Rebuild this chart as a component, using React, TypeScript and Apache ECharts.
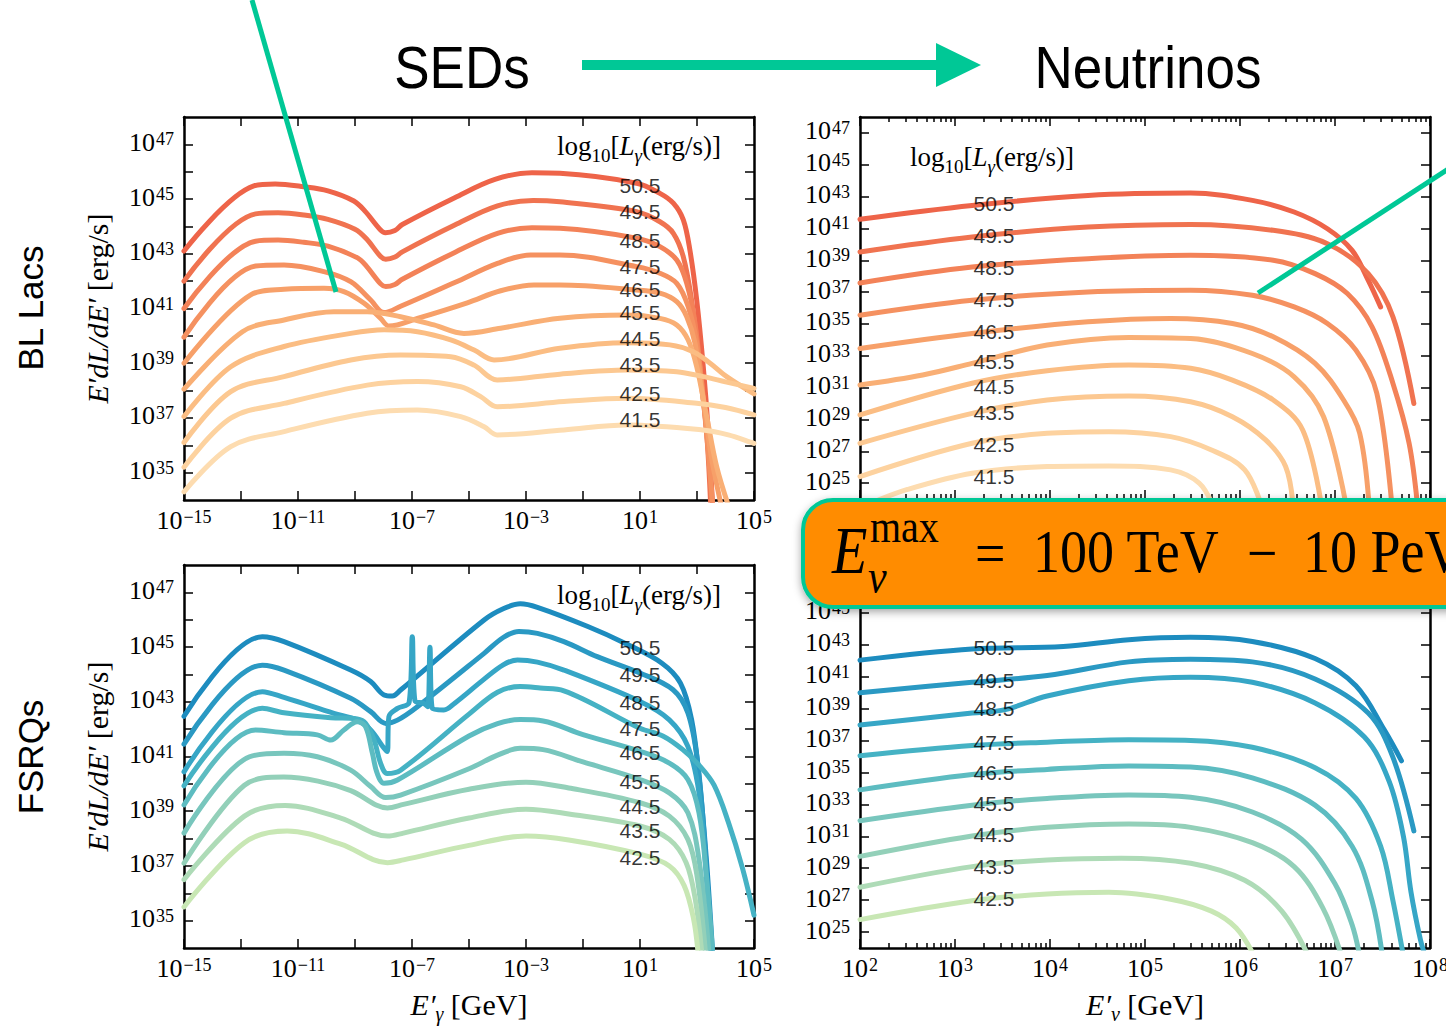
import React, { useEffect, useRef } from "react";
import * as echarts from "echarts";

// ---------- luminosity labels ----------
const blLum = ["50.5", "49.5", "48.5", "47.5", "46.5", "45.5", "44.5", "43.5", "42.5", "41.5"];
const fsLum = ["50.5", "49.5", "48.5", "47.5", "46.5", "45.5", "44.5", "43.5", "42.5"];

const blColors = ["#ee6449", "#f07350", "#f38258", "#f59160", "#f7a069", "#f9af75", "#fbbd83", "#fcc891", "#fdd29f", "#fddcb0"];
const fsColors = ["#1d8cbf", "#2a99c3", "#36a6c6", "#45b2c4", "#5dbcc1", "#78c6bd", "#93d0b9", "#aedbb7", "#c8e7b4"];

// ---------- BL Lac SEDs: [log10 E'(GeV), log10 E'dL/dE'(erg/s)] ----------
const blSed505 = [[-15, 43.1], [-12.55, 45.48], [-11.8, 45.55], [-10.8, 45.45], [-9.95, 45.3], [-9.04, 44.93], [-8.65, 44.56], [-8.12, 43.89], [-7.93, 43.77], [-7.6, 43.85], [-7.34, 44.07], [-5.5, 45.05], [-4.09, 45.72], [-2.79, 45.96], [-1.81, 45.94], [0.88, 45.58], [1.7, 45.21], [2.17, 44.85], [2.52, 44.24], [2.75, 43.14], [2.99, 41.31], [3.22, 38.87], [3.4, 36.45], [3.55, 33.8]];
const blSed495 = [[-15, 42.0], [-12.49, 44.46], [-11.7, 44.5], [-10.8, 44.42], [-9.95, 44.26], [-9.0, 43.9], [-8.6, 43.55], [-8.1, 42.9], [-7.92, 42.8], [-7.6, 42.88], [-7.34, 43.07], [-5.5, 44.05], [-4.0, 44.75], [-2.75, 44.95], [-1.81, 44.9], [0.88, 44.54], [1.7, 44.17], [2.17, 43.75], [2.52, 42.89], [2.81, 41.31], [3.11, 38.87], [3.34, 36.44], [3.48, 33.8]];
const blSed485 = [[-15, 41.0], [-12.49, 43.46], [-11.7, 43.5], [-10.8, 43.42], [-9.95, 43.28], [-8.91, 42.85], [-8.6, 42.55], [-8.1, 41.9], [-7.92, 41.8], [-7.6, 41.88], [-7.34, 42.07], [-5.5, 43.05], [-4.0, 43.75], [-2.79, 43.95], [-1.81, 43.93], [0.88, 43.57], [1.7, 43.26], [2.29, 42.77], [2.64, 41.92], [2.93, 40.46], [3.16, 38.27], [3.4, 35.83], [3.53, 33.8]];
const blSed475 = [[-15, 39.95], [-12.49, 42.55], [-11.49, 42.59], [-10.09, 42.35], [-9.15, 41.98], [-8.45, 41.31], [-7.98, 40.85], [-7.4, 41.08], [-5.5, 41.95], [-4.0, 42.65], [-2.84, 42.96], [-1.81, 42.96], [0.88, 42.53], [1.7, 42.29], [2.29, 41.92], [2.69, 41.07], [2.99, 39.73], [3.28, 37.05], [3.55, 33.8]];
const blSed465 = [[-15, 39.0], [-12.66, 41.5], [-11.49, 41.7], [-10.09, 41.74], [-9.39, 41.62], [-8.68, 41.19], [-8.1, 40.64], [-7.81, 40.36], [-6.81, 40.64], [-5.06, 41.21], [-3.89, 41.65], [-2.72, 41.86], [-1.81, 41.86], [0.88, 41.68], [1.7, 41.56], [2.29, 41.25], [2.64, 40.7], [2.93, 39.73], [3.22, 37.66], [3.5, 35.6], [3.85, 33.8]];
const blSed455 = [[-15, 38.05], [-12.95, 40.15], [-11.49, 40.58], [-9.74, 40.88], [-8.57, 40.88], [-7.4, 40.7], [-6.23, 40.4], [-5.18, 40.09], [-3.89, 40.28], [-1.81, 40.64], [0.53, 40.76], [1.7, 40.64], [2.29, 40.4], [2.69, 39.85], [2.99, 38.87], [3.34, 37.05], [3.69, 35.22], [4.1, 33.8]];
const blSed445 = [[-15, 37.05], [-13.36, 38.87], [-11.49, 39.61], [-9.15, 40.09], [-7.98, 40.22], [-6.81, 40.15], [-5.64, 39.85], [-4.82, 39.48], [-4.12, 39.12], [-1.81, 39.55], [0.53, 39.75], [2.05, 39.67], [2.87, 39.42], [3.46, 39.0], [4.04, 38.51], [5, 37.88]];
const blSed435 = [[-15, 36.1], [-13.36, 37.96], [-11.49, 38.51], [-9.15, 39.12], [-7.4, 39.3], [-5.64, 39.24], [-4.82, 38.93], [-4.01, 38.39], [-1.81, 38.6], [0.53, 38.75], [2.29, 38.69], [3.22, 38.51], [4.0, 38.32], [5, 38.08]];
const blSed425 = [[-15, 35.2], [-13.36, 36.99], [-11.49, 37.53], [-8.57, 38.2], [-6.81, 38.33], [-5.29, 38.14], [-4.59, 37.78], [-4.01, 37.41], [-1.67, 37.6], [0.53, 37.72], [2.99, 37.54], [4.0, 37.38], [5, 37.11]];
const blSed415 = [[-15, 34.3], [-13.36, 35.95], [-11.49, 36.5], [-8.57, 37.17], [-6.81, 37.29], [-5.29, 37.05], [-4.47, 36.68], [-4.01, 36.38], [-1.67, 36.56], [0.53, 36.74], [3.2, 36.56], [4.1, 36.38], [5, 36.07]];

// ---------- FSRQ SEDs ----------
const fsSed505 = [[-15, 42.47], [-12.25, 45.38], [-11.49, 45.2], [-9.15, 44.16], [-8.45, 43.74], [-7.98, 43.25], [-7.69, 43.21], [-7.4, 43.43], [-4.47, 45.99], [-3.8, 46.4], [-3.2, 46.58], [-2.6, 46.45], [-0.83, 45.75], [0.47, 45.14], [1.77, 44.41], [2.42, 43.68], [2.81, 42.35], [3.07, 40.28], [3.33, 37.24], [3.55, 33.8]];
const fsSed495 = [[-15, 41.45], [-12.25, 44.34], [-11.49, 44.16], [-9.15, 43.13], [-8.45, 42.64], [-7.92, 42.21], [-7.51, 42.33], [-6.81, 42.82], [-4.47, 44.77], [-3.8, 45.35], [-3.25, 45.57], [-2.6, 45.5], [-1.67, 45.2], [-0.5, 44.65], [1.0, 44.05], [2.16, 43.44], [2.68, 42.59], [3.01, 40.89], [3.27, 37.85], [3.48, 33.8]];
const fsSed485 = [[-15, 40.44], [-12.25, 43.37], [-11.49, 43.16], [-9.74, 42.58], [-8.92, 42.33], [-8.45, 41.97], [-7.98, 41.3], [-7.87, 41.18], [-7.81, 42.46], [-7.51, 42.76], [-7.1, 42.98], [-6.99, 45.38], [-6.9, 43.05], [-6.58, 42.94], [-6.45, 42.82], [-6.37, 44.99], [-6.29, 42.76], [-5.88, 42.7], [-5.5, 42.95], [-4.5, 43.8], [-3.8, 44.35], [-3.3, 44.53], [-2.6, 44.45], [-1.67, 44.16], [1.0, 43.01], [2.03, 42.34], [2.68, 41.37], [3.07, 39.67], [3.33, 36.64], [3.52, 33.8]];
const fsSed475 = [[-15, 39.93], [-12.25, 42.76], [-11.49, 42.6], [-9.85, 42.42], [-8.92, 42.37], [-8.63, 42.21], [-8.33, 41.6], [-8.1, 40.75], [-7.87, 40.38], [-7.4, 40.5], [-5.0, 42.55], [-4.0, 43.35], [-3.2, 43.56], [-2.5, 43.5], [-1.67, 43.4], [1.0, 42.03], [1.8, 41.75], [2.5, 41.25], [3.1, 40.65], [3.6, 39.95], [4.1, 38.6], [4.6, 36.9], [5.0, 35.2]];
const fsSed465 = [[-15, 39.23], [-12.49, 41.97], [-11.49, 41.87], [-10.32, 41.79], [-9.85, 41.6], [-9.39, 41.97], [-8.92, 42.27], [-8.63, 42.09], [-8.39, 41.12], [-8.22, 40.38], [-7.98, 40.02], [-7.51, 40.14], [-5.0, 41.75], [-4.0, 42.2], [-3.2, 42.35], [-2.4, 42.3], [-1.0, 41.8], [1.0, 41.19], [2.03, 40.76], [2.68, 40.16], [3.07, 38.94], [3.33, 36.64], [3.55, 33.8]];
const fsSed455 = [[-15, 38.2], [-12.7, 40.99], [-11.49, 41.12], [-10.32, 40.99], [-9.15, 40.5], [-8.45, 39.9], [-7.92, 39.5], [-7.4, 39.59], [-5.0, 40.55], [-4.0, 41.05], [-3.2, 41.3], [-2.4, 41.25], [-1.0, 40.8], [1.0, 40.16], [2.03, 39.67], [2.68, 38.94], [3.07, 37.24], [3.42, 33.8]];
const fsSed445 = [[-15, 37.1], [-12.88, 39.95], [-11.5, 40.25], [-10.3, 40.1], [-9.15, 39.75], [-7.86, 39.12], [-7.3, 39.25], [-5.0, 39.8], [-3.0, 40.06], [-1.5, 39.85], [1.0, 39.31], [2.03, 38.82], [2.68, 37.97], [3.0, 36.64], [3.3, 33.8]];
const fsSed435 = [[-15, 36.5], [-12.88, 38.82], [-11.45, 39.21], [-9.5, 38.75], [-7.86, 38.09], [-7.3, 38.2], [-5.0, 38.75], [-3.0, 39.07], [-1.5, 38.9], [1.0, 38.46], [2.03, 37.97], [2.62, 37.12], [2.94, 35.78], [3.17, 33.8]];
const fsSed425 = [[-15, 35.5], [-12.88, 37.85], [-11.38, 38.28], [-9.5, 37.8], [-7.86, 37.12], [-7.3, 37.22], [-5.0, 37.75], [-3.0, 38.09], [-1.5, 37.95], [1.0, 37.43], [2.03, 37.0], [2.55, 36.28], [2.88, 35.06], [3.04, 33.8]];

// ---------- BL Lac neutrinos: [log10 E'nu(GeV), log10 E'dL/dE'] ----------
const nuBl505 = [[2, 41.57], [3.18, 42.44], [4.4, 43.07], [5.48, 43.22], [6.13, 42.76], [6.57, 42.03], [6.92, 40.98], [7.18, 39.62], [7.35, 37.74], [7.48, 36.07]];
const nuBl495 = [[2, 39.52], [3.18, 40.46], [4.4, 41.09], [5.48, 41.25], [6.35, 40.88], [6.92, 40.04], [7.35, 38.16], [7.61, 35.44], [7.83, 30.0]];
const nuBl485 = [[2, 37.57], [3.18, 38.57], [4.4, 39.1], [5.48, 39.31], [6.35, 39.0], [6.79, 38.16], [7.13, 36.91], [7.39, 34.82], [7.61, 31.26], [7.78, 27.5], [7.87, 23.5]];
const nuBl475 = [[2, 35.55], [3.18, 36.49], [4.4, 37.01], [5.48, 37.12], [6.13, 36.8], [6.57, 36.07], [6.92, 35.03], [7.22, 33.35], [7.44, 30.64], [7.6, 23.5]];
const nuBl465 = [[2, 33.46], [3.18, 34.4], [4.4, 35.13], [5.27, 35.34], [5.92, 35.03], [6.35, 34.19], [6.79, 32.52], [7.09, 30.22], [7.26, 28.13], [7.36, 23.5]];
const nuBl455 = [[2, 31.16], [2.66, 31.79], [3.18, 32.52], [3.97, 33.67], [4.83, 34.15], [5.48, 34.08], [6.13, 33.14], [6.57, 31.68], [6.88, 29.17], [7.12, 23.5]];
const nuBl445 = [[2, 29.28], [3.18, 31.27], [3.97, 32.06], [4.83, 32.42], [5.48, 32.21], [5.92, 31.47], [6.35, 30.22], [6.66, 28.34], [6.86, 23.5]];
const nuBl435 = [[2, 27.5], [3.18, 29.38], [3.97, 30.22], [4.83, 30.47], [5.48, 30.11], [5.92, 29.17], [6.27, 27.71], [6.48, 26.04], [6.56, 23.5]];
const nuBl425 = [[2, 25.41], [3.18, 27.5], [3.97, 28.13], [4.62, 28.23], [5.27, 27.92], [5.7, 27.08], [6.05, 25.83], [6.23, 23.5]];
const nuBl415 = [[2.1, 23.7], [2.5, 24.6], [3.18, 25.62], [3.97, 26.04], [4.62, 26.08], [5.27, 25.83], [5.57, 25.0], [5.72, 23.5]];

// ---------- FSRQ neutrinos ----------
const nuFs505 = [[2, 42.04], [3.18, 42.74], [4.14, 42.89], [4.83, 43.32], [5.48, 43.47], [6.13, 43.21], [6.79, 42.14], [7.22, 40.43], [7.52, 37.65], [7.7, 35.73]];
const nuFs495 = [[2, 40.0], [3.18, 40.65], [3.97, 41.07], [4.83, 41.93], [5.48, 42.1], [6.13, 41.93], [6.79, 40.86], [7.35, 38.72], [7.61, 35.94], [7.83, 31.34]];
const nuFs485 = [[2, 37.97], [3.18, 38.72], [3.53, 38.94], [3.97, 39.79], [4.83, 40.75], [5.48, 40.97], [6.13, 40.65], [6.79, 39.36], [7.31, 37.22], [7.57, 34.44], [7.72, 31.0], [7.8, 27.5], [7.9, 24.5], [7.95, 23.5]];
const nuFs475 = [[2, 36.05], [3.18, 36.69], [3.97, 36.9], [4.83, 37.05], [5.48, 37.01], [6.13, 36.58], [6.79, 35.3], [7.22, 33.37], [7.48, 30.38], [7.61, 26.96], [7.72, 23.5]];
const nuFs465 = [[2, 33.91], [3.18, 34.87], [3.97, 35.19], [4.83, 35.41], [5.48, 35.34], [6.13, 34.66], [6.79, 32.95], [7.18, 30.38], [7.39, 26.96], [7.5, 23.5]];
const nuFs455 = [[2, 31.98], [3.18, 32.95], [3.97, 33.37], [4.83, 33.59], [5.48, 33.44], [6.13, 32.52], [6.65, 30.81], [7.0, 28.03], [7.18, 25.46], [7.26, 23.5]];
const nuFs445 = [[2, 29.74], [3.18, 31.02], [3.97, 31.56], [4.83, 31.77], [5.48, 31.56], [6.13, 30.6], [6.57, 29.1], [6.87, 26.53], [7.07, 23.5]];
const nuFs435 = [[2, 27.81], [3.18, 29.1], [3.97, 29.52], [4.75, 29.63], [5.48, 29.31], [6.05, 28.24], [6.44, 26.31], [6.72, 23.5]];
const nuFs425 = [[2, 25.78], [3.18, 26.96], [3.97, 27.38], [4.62, 27.49], [5.27, 27.06], [5.7, 26.31], [5.96, 25.25], [6.15, 23.5]];

const blSedCurves = [blSed505, blSed495, blSed485, blSed475, blSed465, blSed455, blSed445, blSed435, blSed425, blSed415];
const fsSedCurves = [fsSed505, fsSed495, fsSed485, fsSed475, fsSed465, fsSed455, fsSed445, fsSed435, fsSed425];
const nuBlCurves = [nuBl505, nuBl495, nuBl485, nuBl475, nuBl465, nuBl455, nuBl445, nuBl435, nuBl425, nuBl415];
const nuFsCurves = [nuFs505, nuFs495, nuFs485, nuFs475, nuFs465, nuFs455, nuFs445, nuFs435, nuFs425];

// ---------- curve label anchors (data coordinates) ----------
const sedLabelX = 1;
const nuLabelX = 3.41;
const blSedLabelY = [45.5, 44.53, 43.5, 42.52, 41.68, 40.84, 39.92, 38.94, 37.91, 36.93];
const fsSedLabelY = [44.97, 43.98, 42.96, 42.01, 41.13, 40.1, 39.18, 38.28, 37.29];
const nuBlLabelY = [42.58, 40.57, 38.55, 36.54, 34.52, 32.63, 31.06, 29.42, 27.4, 25.39];
const nuFsLabelY = [42.8, 40.79, 38.98, 36.85, 34.97, 33.03, 31.09, 29.08, 27.08];

// ---------- ticks (exponents) ----------
const sedXTicks = [-15, -13, -11, -9, -7, -5, -3, -1, 1, 3, 5];
const sedXLabels = [-15, -11, -7, -3, 1, 5];
const sedYTicks = [35, 36, 37, 38, 39, 40, 41, 42, 43, 44, 45, 46, 47];
const sedYLabels = [35, 37, 39, 41, 43, 45, 47];
const nuXTicks = [2, 3, 4, 5, 6, 7, 8];
const nuXLabels = [2, 3, 4, 5, 6, 7, 8];
const nuYTicks = [25, 27, 29, 31, 33, 35, 37, 39, 41, 43, 45, 47];
const nuYLabelsTop = [25, 27, 29, 31, 33, 35, 37, 39, 41, 43, 45, 47];
const nuYLabelsBottom = [25, 27, 29, 31, 33, 35, 37, 39, 41, 43, 45];
const minorFactors = [2, 3, 4, 5, 6, 7, 8, 9];
const nuXMinor: number[] = [];
for (let d = 2; d < 8; d++) for (const k of minorFactors) nuXMinor.push(d + Math.log10(k));

const SERIF = '"Liberation Serif", "Times New Roman", serif';
const SANS = '"Liberation Sans", Arial, Helvetica, sans-serif';
const TEAL = "#00c896";

function supLabel(v: number) {
  const n = Math.round(v);
  const e = n < 0 ? "\u2212" + Math.abs(n) : String(n);
  return "{b|10}{s|" + e + "}";
}

const tickRich = {
  b: { fontFamily: SERIF, fontSize: 26, lineHeight: 30, verticalAlign: "top", color: "#000" },
  s: { fontFamily: SERIF, fontSize: 18, lineHeight: 18, padding: [1, 0, 0, 1], verticalAlign: "top", color: "#000" },
};

const nameRich = {
  i: { fontFamily: SERIF, fontStyle: "italic", fontSize: 30, lineHeight: 32, verticalAlign: "top", color: "#000" },
  n: { fontFamily: SERIF, fontSize: 30, lineHeight: 32, verticalAlign: "top", color: "#000" },
  g: { fontFamily: SERIF, fontStyle: "italic", fontSize: 20, lineHeight: 20, padding: [15, 0, 0, 0], verticalAlign: "top", color: "#000" },
};

const spine = { show: true, onZero: false, lineStyle: { color: "#000", width: 2.5 } };
const tickStyle = { color: "#000", width: 1.5 };

type Panel = {
  grid: number; xMin: number; xMax: number; yMin: number; yMax: number;
  xTicks: number[]; xLabels: number[]; xMinor?: number[]; yTicks: number[]; yLabels: number[];
  showX: boolean; xName?: string; yName?: string;
  curves: number[][][]; colors: string[]; labelX: number; labelY: number[]; lums: string[];
};

const panels: Panel[] = [
  { grid: 0, xMin: -15, xMax: 5, yMin: 34, yMax: 48, xTicks: sedXTicks, xLabels: sedXLabels, yTicks: sedYTicks, yLabels: sedYLabels,
    showX: true, yName: "{i|E\u2032dL/dE\u2032} {n|[erg/s]}", curves: blSedCurves, colors: blColors, labelX: sedLabelX, labelY: blSedLabelY, lums: blLum },
  { grid: 1, xMin: 2, xMax: 8, yMin: 24, yMax: 48, xTicks: nuXTicks, xLabels: nuXLabels, xMinor: nuXMinor, yTicks: nuYTicks, yLabels: nuYLabelsTop,
    showX: false, curves: nuBlCurves, colors: blColors, labelX: nuLabelX, labelY: nuBlLabelY, lums: blLum },
  { grid: 2, xMin: -15, xMax: 5, yMin: 34, yMax: 48, xTicks: sedXTicks, xLabels: sedXLabels, yTicks: sedYTicks, yLabels: sedYLabels,
    showX: true, xName: "{i|E\u2032}{g|\u03b3}{n| [GeV]}", yName: "{i|E\u2032dL/dE\u2032} {n|[erg/s]}", curves: fsSedCurves, colors: fsColors, labelX: sedLabelX, labelY: fsSedLabelY, lums: fsLum },
  { grid: 3, xMin: 2, xMax: 8, yMin: 24, yMax: 48, xTicks: nuXTicks, xLabels: nuXLabels, xMinor: nuXMinor, yTicks: nuYTicks, yLabels: nuYLabelsBottom,
    showX: true, xName: "{i|E\u2032}{g|\u03bd}{n| [GeV]}", curves: nuFsCurves, colors: fsColors, labelX: nuLabelX, labelY: nuFsLabelY, lums: fsLum },
];

function buildOption() {
  const grid = [
    { left: 184, top: 117, width: 570, height: 383 },
    { left: 860, top: 117, width: 570, height: 382 },
    { left: 184, top: 565, width: 570, height: 383 },
    { left: 860, top: 565, width: 570, height: 383 },
  ].map((g) => ({ ...g, containLabel: false, outerBoundsMode: "none", show: false }));

  const xAxis: any[] = [];
  const yAxis: any[] = [];
  const series: any[] = [];

  panels.forEach((p) => {
    const xi = xAxis.length;
    const yi = yAxis.length;
    const bx = { type: "value", gridIndex: p.grid, min: p.xMin, max: p.xMax, splitLine: { show: false }, axisLine: spine };
    const by = { type: "value", gridIndex: p.grid, min: p.yMin, max: p.yMax, splitLine: { show: false }, axisLine: spine };
    const majorX = { show: true, inside: true, length: 9, customValues: p.xTicks, lineStyle: tickStyle };
    const majorY = { show: true, inside: true, length: 9, customValues: p.yTicks, lineStyle: tickStyle };
    xAxis.push({
      ...bx, position: "bottom", axisTick: majorX,
      axisLabel: { show: p.showX, customValues: p.xLabels, formatter: supLabel, rich: tickRich, margin: 7 },
      name: p.xName, nameLocation: "middle", nameGap: 41,
      nameTextStyle: { fontFamily: SERIF, fontSize: 30, color: "#000", rich: nameRich },
    });
    xAxis.push({ ...bx, position: "top", axisTick: majorX, axisLabel: { show: false } });
    if (p.xMinor) {
      const minor = { show: true, inside: true, length: 5, customValues: p.xMinor, lineStyle: tickStyle };
      xAxis.push({ ...bx, position: "bottom", axisLine: { show: false }, axisTick: minor, axisLabel: { show: false } });
      xAxis.push({ ...bx, position: "top", axisLine: { show: false }, axisTick: minor, axisLabel: { show: false } });
    }
    yAxis.push({
      ...by, position: "left", axisTick: majorY,
      axisLabel: { show: true, customValues: p.yLabels, formatter: supLabel, rich: tickRich, margin: 10 },
      name: p.yName, nameLocation: "middle", nameRotate: 90, nameGap: 70,
      nameTextStyle: { fontFamily: SERIF, fontSize: 30, color: "#000", rich: nameRich },
    });
    yAxis.push({ ...by, position: "right", axisTick: majorY, axisLabel: { show: false } });

    p.curves.forEach((data, i) => {
      series.push({
        type: "line", name: p.lums[i], xAxisIndex: xi, yAxisIndex: yi, data,
        showSymbol: false, symbol: "none", smooth: 0.35, clip: true, silent: true,
        lineStyle: { width: 5, color: p.colors[i], cap: "round", join: "round" }, itemStyle: { color: p.colors[i] }, z: 2,
      });
    });
    series.push({
      type: "scatter", xAxisIndex: xi, yAxisIndex: yi, silent: true, z: 5,
      data: p.labelY.map((y, i) => [p.labelX, y, p.lums[i]]),
      symbolSize: 1, itemStyle: { color: "rgba(0,0,0,0)" },
      label: { show: true, position: "inside", formatter: (q: any) => q.value[2], fontFamily: SANS, fontSize: 21, lineHeight: 17, color: "#000" },
    });
  });

  const headerRich = {
    n: { fontFamily: SERIF, fontSize: 27, lineHeight: 30, verticalAlign: "top", fill: "#000" },
    i: { fontFamily: SERIF, fontStyle: "italic", fontSize: 27, lineHeight: 30, verticalAlign: "top", fill: "#000" },
    d: { fontFamily: SERIF, fontSize: 19, lineHeight: 20, padding: [14, 0, 0, 0], verticalAlign: "top", fill: "#000" },
    di: { fontFamily: SERIF, fontStyle: "italic", fontSize: 19, lineHeight: 20, padding: [14, 0, 0, 0], verticalAlign: "top", fill: "#000" },
  };
  const headerText = "{n|log}{d|10}{n|[}{i|L}{di|\u03b3}{n|(erg/s)]}";
  const header = (x: number, y: number) => ({
    type: "text", x, y, z: 50,
    style: { text: headerText, rich: headerRich, align: "left", verticalAlign: "middle" },
  });

  const boxText = (x: number, y: number, text: string, size: number, italic = false) => ({
    type: "text", x, y, z: 210, scaleY: 1.15,
    style: { text, fontFamily: SERIF, fontStyle: italic ? "italic" : "normal", fontSize: size, fill: "#000", align: "left", verticalAlign: "middle" },
  });

  const graphic: any[] = [
    { type: "text", x: 462, y: 68, z: 100, scaleY: 1.1, style: { text: "SEDs", fontFamily: SANS, fontSize: 53, fill: "#000", align: "center", verticalAlign: "middle" } },
    { type: "text", x: 1148, y: 68, z: 100, scaleY: 1.1, style: { text: "Neutrinos", fontFamily: SANS, fontSize: 53, fill: "#000", align: "center", verticalAlign: "middle" } },
    { type: "line", z: 100, shape: { x1: 582, y1: 65, x2: 940, y2: 65 }, style: { stroke: TEAL, lineWidth: 10 } },
    { type: "polygon", z: 100, shape: { points: [[936, 43], [981, 65], [936, 87]] }, style: { fill: TEAL } },
    { type: "line", z: 100, shape: { x1: 252, y1: 0, x2: 336, y2: 292 }, style: { stroke: TEAL, lineWidth: 5 } },
    { type: "line", z: 100, shape: { x1: 1450, y1: 168, x2: 1258, y2: 293 }, style: { stroke: TEAL, lineWidth: 5 } },
    { type: "text", x: 30, y: 308, rotation: Math.PI / 2, z: 100, style: { text: "BL Lacs", fontFamily: SANS, fontSize: 35, fill: "#000", align: "center", verticalAlign: "middle" } },
    { type: "text", x: 30, y: 757, rotation: Math.PI / 2, z: 100, style: { text: "FSRQs", fontFamily: SANS, fontSize: 35, fill: "#000", align: "center", verticalAlign: "middle" } },
    header(557, 147),
    header(910, 158),
    header(557, 596),
    {
      type: "rect", z: 200, shape: { x: 803, y: 500, width: 700, height: 107, r: 30 },
      style: { fill: "#ff8c00", stroke: TEAL, lineWidth: 4, shadowBlur: 8, shadowOffsetY: 3, shadowColor: "rgba(0,0,0,0.35)" },
    },
    boxText(832, 551, "E", 58, true),
    boxText(870, 527, "max", 40),
    boxText(868, 577, "\u03bd", 42, true),
    boxText(975, 553, "=", 54),
    boxText(1033, 551, "100 TeV", 54),
    boxText(1247, 553, "\u2212", 54),
    boxText(1303, 551, "10 PeV", 54),
  ];

  return { animation: false, backgroundColor: "#ffffff", grid, xAxis, yAxis, series, graphic };
}

export default function App() {
  const ref = useRef<HTMLDivElement>(null);
  useEffect(() => {
    if (!ref.current) return;
    const chart = echarts.init(ref.current, null, { renderer: "svg" });
    chart.setOption(buildOption() as any);
    return () => chart.dispose();
  }, []);
  return <div ref={ref} style={{ position: "fixed", left: 0, top: 0, width: 1446, height: 1027, background: "#fff" }} />;
}
